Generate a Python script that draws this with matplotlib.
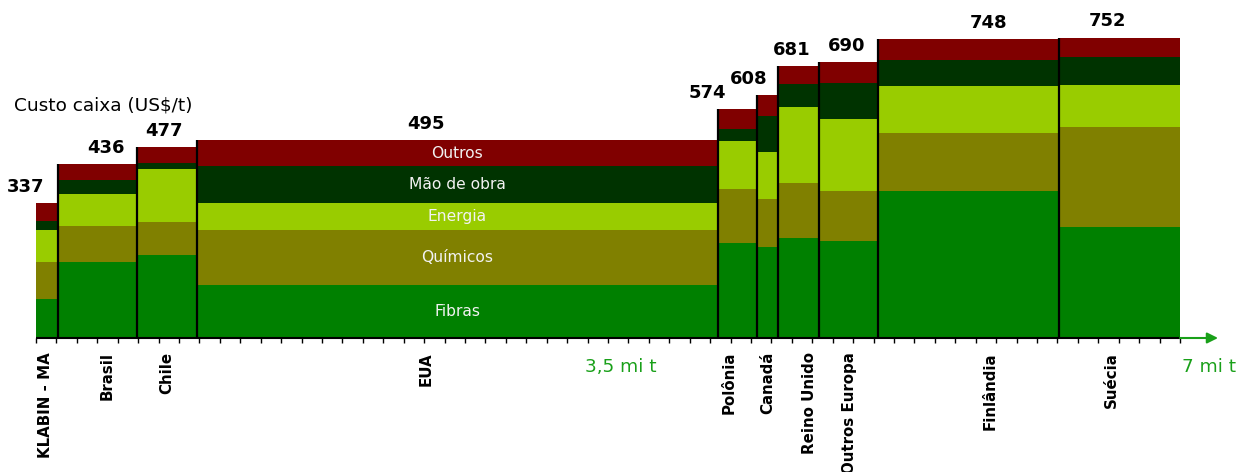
import numpy as np
import matplotlib
matplotlib.use("Agg")
import matplotlib.pyplot as plt

# capacity (mi t) and cash cost components (US$/t) per producer
countries = ['KLABIN - MA', 'Brasil', 'Chile', 'EUA', 'Polônia', 'Canadá',
             'Reino Unido', 'Outros Europa', 'Finlândia', 'Suécia']
capacity = [0.135, 0.483, 0.367, 3.188, 0.239, 0.128, 0.251, 0.361, 1.108, 0.740]

fibras = [98, 191, 208, 132, 238, 227, 250, 243, 369, 277]
quimicos = [93, 90, 83, 139, 134, 122, 137, 125, 145, 250]
energia = [80, 80, 131, 67, 120, 117, 192, 181, 117, 107]
mao_obra = [23, 35, 17, 92, 30, 89, 57, 89, 65, 70]
outros = [43, 40, 38, 65, 52, 53, 45, 52, 52, 48]
totals = [337, 436, 477, 495, 574, 608, 681, 690, 748, 752]

components = ['Fibras', 'Químicos', 'Energia', 'Mão de obra', 'Outros']
colors = ['#008000', '#808000', '#99cc00', '#003300', '#800000']

# label anchors along the capacity axis (mi t)
value_label_x = [-0.061, 0.428, 0.783, 2.386, 4.106, 4.363, 4.626, 4.962, 5.828, 6.559]
country_label_x = [0.06, 0.434, 0.80, 2.39, 4.24, 4.48, 4.73, 4.98, 5.84, 6.58]
axis_marks = ['3,5 mi t', '7 mi t']
axis_marks_x = [3.58, 7.18]
tick_step = 0.125

green = '#19a019'

fig = plt.figure(figsize=(12.38, 4.72), dpi=100)
ax = fig.add_axes([0, 0, 1, 1])
px_x = 163.43
px_y = 0.3996
ax.set_xlim(-36 / px_x, (1238 - 36) / px_x)
ax.set_ylim(-134 / px_y, 338 / px_y)
ax.axis('off')

lefts = np.concatenate([[0], np.cumsum(capacity)[:-1]])
bottom = np.zeros(len(countries))
for vals, col, name in zip([fibras, quimicos, energia, mao_obra, outros], colors, components):
    ax.bar(lefts, vals, width=capacity, bottom=bottom, align='edge',
           color=col, linewidth=0)
    # component names inside the widest bar (EUA)
    i = countries.index('EUA')
    ax.text(lefts[i] + capacity[i] / 2, bottom[i] + vals[i] / 2, name,
            ha='center', va='center', color='#f2f2f2', fontsize=11.2)
    bottom = bottom + np.array(vals)

# separators between bars
ax.vlines(lefts[1:], 0, bottom[1:], color='black', lw=1.6)

# x axis with ticks and arrow
end = sum(capacity)
ax.hlines(0, 0, end, color='black', lw=1.5)
ticks = np.arange(0, end + 1e-6, tick_step)
ax.vlines(ticks, -5 / px_y, 0, color='black', lw=1)
ax.annotate('', xy=(end + 38 / px_x, 0), xytext=(end, 0),
            arrowprops=dict(arrowstyle='-|>', color=green, lw=1.5,
                            mutation_scale=16, shrinkA=0, shrinkB=0))
for lab, x in zip(axis_marks, axis_marks_x):
    ax.text(x, -29 / px_y, lab, ha='center', va='center', color=green, fontsize=13.3)

for name, x in zip(countries, country_label_x):
    ax.text(x, -14 / px_y, name, rotation=90, ha='center', va='top',
            fontsize=10.8, fontweight='bold')

for t, x, top in zip(totals, value_label_x, bottom):
    ax.annotate(str(t), (x, top), xytext=(0, 8), textcoords='offset points',
                ha='center', va='baseline', fontsize=13, fontweight='bold')

ax.text(14 / px_x - 36 / px_x, (338 - 105) / px_y, 'Custo caixa (US$/t)',
        ha='left', va='center', fontsize=13.3)

fig.savefig('out.png', dpi=100)
